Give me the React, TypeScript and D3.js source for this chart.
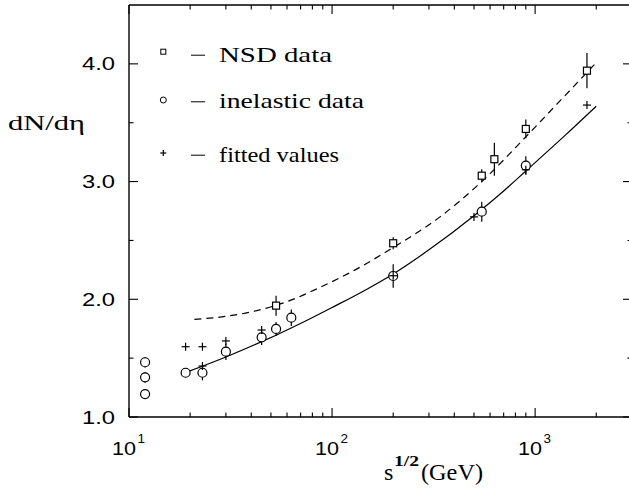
import React from "react";
import * as d3 from "d3";

// ---- data ----
const inelasticX = [12, 12, 12, 19, 23, 30, 45, 53, 63, 200, 546, 900];
const inelasticY = [1.465, 1.337, 1.195, 1.376, 1.376, 1.555, 1.677, 1.748, 1.844, 2.198, 2.744, 3.135];
const inelasticErr = [0.045, 0.045, 0, 0.04, 0.065, 0.07, 0.065, 0.06, 0.07, 0.1, 0.085, 0.08];

const nsdX = [53, 200, 546, 630, 900, 1800];
const nsdY = [1.946, 2.476, 3.05, 3.19, 3.447, 3.942];
const nsdErr = [0.085, 0.05, 0.055, 0.14, 0.08, 0.15];

const fitX = [19, 23, 23, 30, 45, 200, 500, 900, 1800];
const fitY = [1.597, 1.597, 1.433, 1.646, 1.739, 2.2, 2.7, 3.1, 3.65];

const solidX = [19.5, 30, 45, 53, 74, 100, 150, 200, 300, 500, 700, 900, 1400, 2000];
const solidY = [1.385, 1.51, 1.64, 1.695, 1.815, 1.93, 2.09, 2.215, 2.42, 2.71, 2.92, 3.09, 3.39, 3.64];

const dashX = [21, 30, 44, 60, 87, 130, 200, 340, 546, 900, 1300, 2000];
const dashY = [1.83, 1.855, 1.91, 1.98, 2.1, 2.25, 2.44, 2.7, 3.0, 3.38, 3.67, 4.01];

const yTicks = [1.0, 2.0, 3.0, 4.0];
const yMinorTicks = [1.5, 2.5, 3.5];
const xMajorTicks = [10, 100, 1000];
const xTickExp = ["1", "2", "3"];

const legendLabels = ["NSD data", "inelastic data", "fitted values"];

export default function App() {
  const W = 629, H = 491;
  const x = d3.scaleLog().domain([10, 3000]).range([129, 632]);
  const y = d3.scaleLinear().domain([1, 4.5]).range([417, 5]);

  const xMinor: number[] = [];
  for (const dec of [10, 100, 1000]) {
    for (let k = 2; k <= 9; k++) {
      const v = dec * k;
      if (v <= 3000) xMinor.push(v);
    }
  }

  const solidPts = solidX.map((v, i) => [v, solidY[i]] as [number, number]);
  const dashPts = dashX.map((v, i) => [v, dashY[i]] as [number, number]);
  const line = d3
    .line<[number, number]>()
    .x((d) => x(d[0]))
    .y((d) => y(d[1]))
    .curve(d3.curveMonotoneX);

  const sans = "'Liberation Sans', Arial, sans-serif";
  const serif = "'Liberation Serif', 'Times New Roman', serif";
  const sw = 1.2;

  const plus = (cx: number, cy: number, s: number, key: string) => (
    <g key={key} stroke="#000" strokeWidth={sw}>
      <line x1={cx - s} x2={cx + s} y1={cy} y2={cy} />
      <line x1={cx} x2={cx} y1={cy - s} y2={cy + s} />
    </g>
  );

  return (
    <svg width={W} height={H} style={{ position: "absolute", left: 0, top: 0, background: "#fff" }}>
      <rect x={0} y={0} width={W} height={H} fill="#fff" />
      {/* frame */}
      <g stroke="#000" strokeWidth={1.4} fill="none">
        <line x1={x(10)} x2={x(3000)} y1={y(1)} y2={y(1)} />
        <line x1={x(10)} x2={x(3000)} y1={y(4.5)} y2={y(4.5)} />
        <line x1={x(10)} x2={x(10)} y1={y(1)} y2={y(4.5)} />
        <line x1={x(3000)} x2={x(3000)} y1={y(1)} y2={y(4.5)} />
      </g>
      {/* x ticks */}
      <g stroke="#000" strokeWidth={1.1}>
        {xMinor.map((v) => (
          <g key={"xm" + v}>
            <line x1={x(v)} x2={x(v)} y1={y(1)} y2={y(1) - 4.5} />
            <line x1={x(v)} x2={x(v)} y1={y(4.5)} y2={y(4.5) + 4.5} />
          </g>
        ))}
        {xMajorTicks.map((v) => (
          <g key={"xM" + v}>
            <line x1={x(v)} x2={x(v)} y1={y(1)} y2={y(1) - 9} />
            <line x1={x(v)} x2={x(v)} y1={y(4.5)} y2={y(4.5) + 9} />
          </g>
        ))}
        {yTicks.map((v) => (
          <g key={"yM" + v}>
            <line x1={x(10)} x2={x(10) + 9} y1={y(v)} y2={y(v)} />
            <line x1={x(3000)} x2={x(3000) - 9} y1={y(v)} y2={y(v)} />
          </g>
        ))}
        {yMinorTicks.map((v) => (
          <g key={"ym" + v}>
            <line x1={x(10)} x2={x(10) + 4.5} y1={y(v)} y2={y(v)} />
            <line x1={x(3000)} x2={x(3000) - 4.5} y1={y(v)} y2={y(v)} />
          </g>
        ))}
      </g>
      {/* y tick labels */}
      {yTicks.map((v) => (
        <text
          key={"yl" + v}
          x={115}
          y={y(v) + 6.5}
          textAnchor="end"
          fontFamily={sans}
          fontSize={18}
          textLength={33}
          lengthAdjust="spacingAndGlyphs"
        >
          {v.toFixed(1)}
        </text>
      ))}
      {/* x tick labels */}
      {xMajorTicks.map((v, i) => (
        <g key={"xl" + v}>
          <text
            x={x(v) - 17}
            y={455}
            fontFamily={sans}
            fontSize={18}
            textLength={24}
            lengthAdjust="spacingAndGlyphs"
          >
            10
          </text>
          <text x={x(v) + 8.5} y={443} fontFamily={sans} fontSize={13} textLength={7.5} lengthAdjust="spacingAndGlyphs">
            {xTickExp[i]}
          </text>
        </g>
      ))}
      {/* axis titles */}
      <text x={8} y={130} fontFamily={serif} fontSize={20} textLength={77} lengthAdjust="spacingAndGlyphs">
        dN/dη
      </text>
      <text x={384} y={480} fontFamily={serif} fontSize={24}>
        s
      </text>
      <text x={394} y={466} fontFamily={serif} fontSize={14} fontWeight="bold" textLength={25} lengthAdjust="spacingAndGlyphs">
        1/2
      </text>
      <text x={421} y={480} fontFamily={serif} fontSize={24} textLength={62} lengthAdjust="spacingAndGlyphs">
        (GeV)
      </text>

      {/* legend */}
      <g>
        <rect x={163.3 - 2.5} y={51.7 - 2.5} width={5} height={5} fill="#fff" stroke="#000" strokeWidth={1} />
        <circle cx={163.3} cy={100} r={3} fill="#fff" stroke="#000" strokeWidth={1} />
        {plus(163.3, 153, 3, "lp")}
        {[61.7, 108.3, 161.7].map((by, i) => (
          <g key={"lg" + i}>
            <line x1={191} x2={205} y1={by - 6.5} y2={by - 6.5} stroke="#000" strokeWidth={1} />
            <text
              x={219}
              y={by}
              fontFamily={serif}
              fontSize={22}
              textLength={[113, 145, 120][i]}
              lengthAdjust="spacingAndGlyphs"
            >
              {legendLabels[i]}
            </text>
          </g>
        ))}
      </g>

      {/* curves */}
      <path d={line(dashPts) || ""} fill="none" stroke="#000" strokeWidth={1.2} strokeDasharray="7,5" />
      <path d={line(solidPts) || ""} fill="none" stroke="#000" strokeWidth={1.2} />

      {/* error bars */}
      <g stroke="#000" strokeWidth={sw}>
        {inelasticX.map((v, i) =>
          inelasticErr[i] > 0 ? (
            <line key={"ie" + i} x1={x(v)} x2={x(v)} y1={y(inelasticY[i] - inelasticErr[i])} y2={y(inelasticY[i] + inelasticErr[i])} />
          ) : null
        )}
        {nsdX.map((v, i) => (
          <line key={"ne" + i} x1={x(v)} x2={x(v)} y1={y(nsdY[i] - nsdErr[i])} y2={y(nsdY[i] + nsdErr[i])} />
        ))}
      </g>
      {/* markers */}
      {nsdX.map((v, i) => (
        <rect key={"ns" + i} x={x(v) - 3.5} y={y(nsdY[i]) - 3.5} width={7} height={7} fill="#fff" stroke="#000" strokeWidth={sw} />
      ))}
      {inelasticX.map((v, i) => (
        <circle key={"in" + i} cx={x(v)} cy={y(inelasticY[i])} r={4.5} fill="#fff" stroke="#000" strokeWidth={sw} />
      ))}
      {fitX.map((v, i) => plus(x(v), y(fitY[i]), 4, "f" + i))}
    </svg>
  );
}
